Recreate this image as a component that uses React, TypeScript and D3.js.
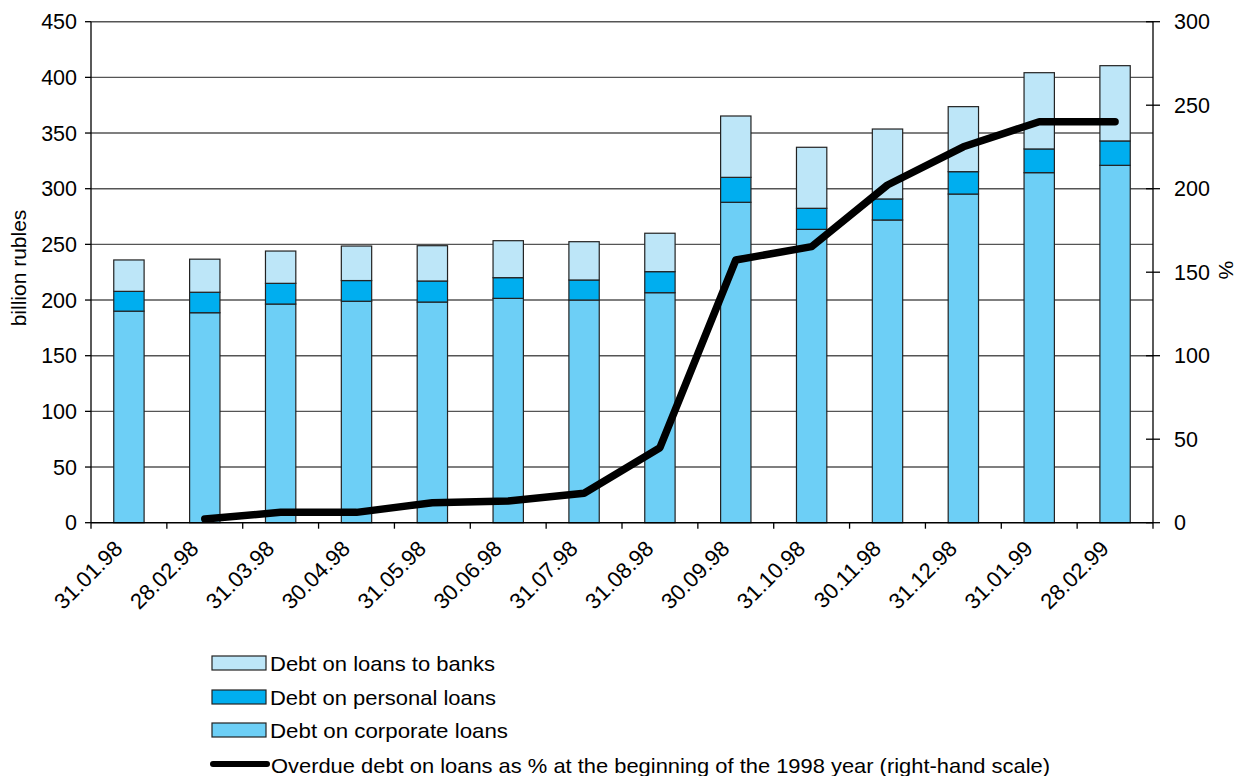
import React from "react";
import * as d3 from "d3";

const categories = ["31.01.98","28.02.98","31.03.98","30.04.98","31.05.98","30.06.98","31.07.98","31.08.98","30.09.98","31.10.98","30.11.98","31.12.98","31.01.99","28.02.99"];
const corporate = [190, 188.6, 196.4, 198.9, 198.2, 201.5, 200, 206.6, 287.8, 263.5, 271.9, 295.2, 314.4, 321];
const personal = [17.8, 18.4, 18.6, 18.6, 18.9, 18.6, 18, 18.9, 22.4, 18.9, 18.9, 20.1, 21.3, 21.9];
const banks = [28.2, 29.7, 29, 31, 31.7, 33.2, 34.4, 34.5, 55.1, 54.8, 62.8, 58.4, 68.5, 67.6];
const overdue: (number | null)[] = [null, 2.2, 6.2, 6.2, 12, 13, 17.6, 44.9, 157.3, 165.3, 202.2, 225.1, 240.1, 240.1];
const leftTicks = [0, 50, 100, 150, 200, 250, 300, 350, 400, 450];
const rightTicks = [0, 50, 100, 150, 200, 250, 300];
const seriesNames = ["Debt on loans to banks", "Debt on personal loans", "Debt on corporate loans"];
const lineName = "Overdue debt on loans as % at the beginning of the 1998 year (right-hand scale)";

const colors = { banks: "#bde6f8", personal: "#00aeef", corporate: "#6dcff6" };
const FONT = "'Liberation Sans', Arial, sans-serif";

export default function App() {
  const left = 91, right = 1153, top = 21.7, bottom = 522.7;
  const x = d3.scaleBand<string>().domain(categories).range([left, right]).paddingInner(0).paddingOuter(0);
  const yL = d3.scaleLinear().domain([0, 450]).range([bottom, top]);
  const yR = d3.scaleLinear().domain([0, 300]).range([bottom, top]);
  const bw = x.bandwidth() * 0.4;
  const cx = (c: string) => (x(c) as number) + x.bandwidth() / 2;

  const stackData = categories.map((c, i) => ({ c, corporate: corporate[i], personal: personal[i], banks: banks[i] }));
  const stack = d3.stack<any>().keys(["corporate", "personal", "banks"])(stackData);

  const line = d3.line<number | null>()
    .defined((d) => d !== null)
    .x((_, i) => cx(categories[i]))
    .y((d) => yR(d as number));

  const legendItems = [
    { name: seriesNames[0], color: colors.banks, y: 663, w: 225 },
    { name: seriesNames[1], color: colors.personal, y: 697, w: 226 },
    { name: seriesNames[2], color: colors.corporate, y: 730, w: 238 },
  ];

  return (
    <svg width={1240} height={776} style={{ position: "absolute", left: 0, top: 0, background: "#fff" }} fontFamily={FONT}>
      {leftTicks.map((t) => (
        <line key={"g" + t} x1={left} x2={right} y1={yL(t)} y2={yL(t)} stroke="#555" strokeWidth={1.4} />
      ))}
      {stack.map((s) => (
        <g key={s.key} fill={(colors as any)[s.key]}>
          {s.map((d, i) => (
            <rect key={i} x={cx(categories[i]) - bw / 2} y={yL(d[1])} width={bw} height={yL(d[0]) - yL(d[1])}
              stroke="#222" strokeWidth={1.2} />
          ))}
        </g>
      ))}
      <line x1={left} x2={left} y1={top} y2={bottom} stroke="#000" strokeWidth={1.3} />
      <line x1={right} x2={right} y1={top} y2={bottom + 6} stroke="#000" strokeWidth={1.3} />
      <line x1={left} x2={right} y1={bottom} y2={bottom} stroke="#000" strokeWidth={1.3} />
      {leftTicks.map((t) => (
        <g key={"l" + t}>
          <line x1={left - 6} x2={left} y1={yL(t)} y2={yL(t)} stroke="#000" strokeWidth={1.3} />
          <text x={77} y={yL(t)} dy="0.36em" textAnchor="end" fontSize={21.5}>{t}</text>
        </g>
      ))}
      {rightTicks.map((t) => (
        <g key={"r" + t}>
          <line x1={right - 7} x2={right + 7} y1={yR(t)} y2={yR(t)} stroke="#000" strokeWidth={1.3} />
          <text x={1174} y={yR(t)} dy="0.36em" textAnchor="start" fontSize={21.5}>{t}</text>
        </g>
      ))}
      {categories.map((c, i) => (
        <line key={"xt" + i} x1={(x(c) as number)} x2={(x(c) as number)} y1={bottom} y2={bottom + 6} stroke="#000" strokeWidth={1.3} />
      ))}
      {categories.map((c) => (
        <text key={"xl" + c} transform={`translate(${cx(c) - 5},${550}) rotate(-45)`} textAnchor="end" fontSize={22}>{c}</text>
      ))}
      <text transform={`translate(26,268) rotate(-90)`} textAnchor="middle" fontSize={21}>billion rubles</text>
      <text transform={`translate(1219,270) rotate(90)`} textAnchor="middle" fontSize={21}>%</text>
      <path d={line(overdue) || ""} fill="none" stroke="#000" strokeWidth={7.5} strokeLinejoin="round" strokeLinecap="round" />
      {legendItems.map((it) => (
        <g key={it.name}>
          <rect x={212} y={it.y - 7} width={54} height={14} fill={it.color} stroke="#222" strokeWidth={1.2} />
          <text x={270} y={it.y} dy="0.36em" fontSize={21} textLength={it.w} lengthAdjust="spacingAndGlyphs">{it.name}</text>
        </g>
      ))}
      <line x1={213} x2={267} y1={764} y2={764} stroke="#000" strokeWidth={6} strokeLinecap="round" />
      <text x={271} y={765} dy="0.36em" fontSize={21} textLength={779} lengthAdjust="spacingAndGlyphs">{lineName}</text>
    </svg>
  );
}
